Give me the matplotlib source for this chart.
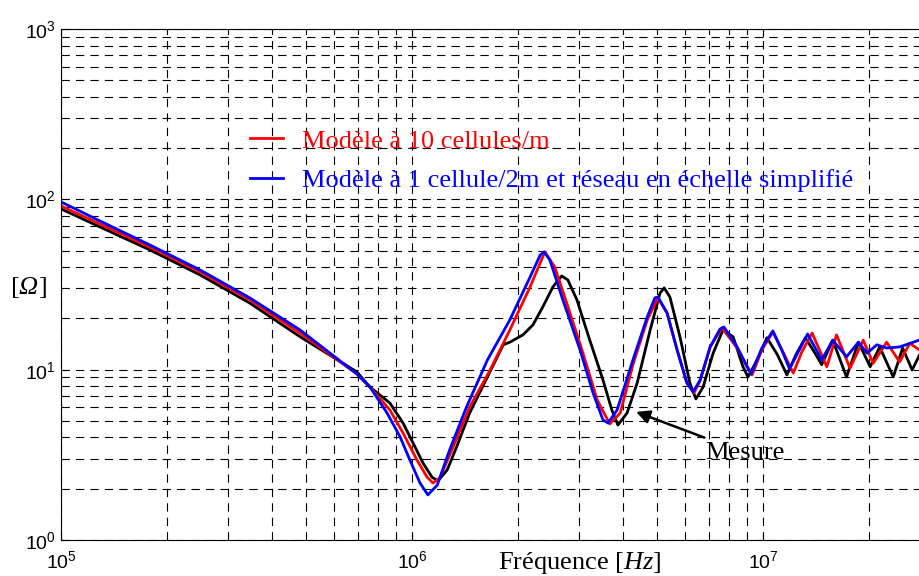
import matplotlib
matplotlib.use("Agg")
import matplotlib.pyplot as plt
from matplotlib.ticker import FixedLocator

plt.rcParams['font.family'] = ['Liberation Sans', 'DejaVu Sans']
plt.rcParams['mathtext.fontset'] = 'custom'
plt.rcParams['mathtext.rm'] = 'Liberation Serif'
plt.rcParams['mathtext.it'] = 'Liberation Serif:italic'

# Mesure (courbe noire)
f_mesure = [1.0e5, 1.29e5, 1.79e5, 2.49e5, 3.45e5, 4.80e5, 6.97e5, 7.59e5, 8.65e5,
            9.43e5, 1.007e6, 1.075e6, 1.14e6, 1.185e6, 1.26e6, 1.34e6, 1.46e6, 1.64e6,
            1.82e6, 1.90e6, 2.07e6, 2.21e6, 2.36e6, 2.52e6, 2.67e6, 2.78e6, 2.95e6,
            3.21e6, 3.50e6, 3.71e6, 3.86e6, 4.10e6, 4.38e6, 4.77e6, 5.09e6, 5.23e6,
            5.43e6, 5.80e6, 6.19e6, 6.44e6, 6.75e6, 7.21e6, 7.69e6, 8.22e6, 8.77e6,
            9.06e6, 9.62e6, 1.026e7, 1.10e7, 1.17e7, 1.24e7, 1.32e7, 1.40e7, 1.47e7,
            1.58e7, 1.73e7, 1.87e7, 2.02e7, 2.15e7, 2.35e7, 2.50e7, 2.66e7, 2.84e7]
z_mesure = [87.9, 68.9, 50.5, 36.0, 24.6, 15.6, 9.69, 7.91, 6.37,
            4.86, 3.71, 2.83, 2.34, 2.22, 2.58, 3.52, 5.57, 9.06,
            14.0, 14.5, 16.0, 18.3, 23.4, 30.6, 35.5, 33.6, 25.7,
            14.9, 8.70, 5.80, 4.73, 5.57, 8.35, 17.1, 28.2, 30.2,
            26.7, 15.6, 8.35, 6.73, 7.91, 12.5, 17.1, 15.6, 10.4,
            9.06, 11.4, 15.4, 12.2, 9.31, 12.2, 15.4, 12.7, 10.7,
            14.9, 9.06, 14.5, 10.4, 13.6, 9.06, 13.4, 9.96, 13.1]

# Modele a 10 cellules/m (rouge)
f_10c = [1.0e5, 1.29e5, 1.79e5, 2.49e5, 3.45e5, 4.80e5, 6.97e5, 7.59e5, 8.65e5,
         9.43e5, 1.033e6, 1.104e6, 1.148e6, 1.20e6, 1.31e6, 1.46e6, 1.67e6, 1.90e6,
         2.17e6, 2.39e6, 2.55e6, 2.76e6, 3.07e6, 3.37e6, 3.66e6, 3.92e6, 4.26e6,
         4.68e6, 5.02e6, 5.33e6, 5.69e6, 6.07e6, 6.36e6, 6.62e6, 7.07e6, 7.64e6,
         8.44e6, 9.31e6, 9.93e6, 1.067e7, 1.14e7, 1.22e7, 1.29e7, 1.38e7, 1.52e7,
         1.62e7, 1.77e7, 1.93e7, 2.06e7, 2.25e7, 2.45e7, 2.62e7, 2.84e7]
z_10c = [91.5, 71.7, 52.5, 37.5, 25.7, 16.4, 9.43, 7.91, 5.80,
         4.25, 2.95, 2.34, 2.16, 2.31, 3.52, 6.04, 9.96, 17.1,
         30.6, 49.1, 40.1, 24.6, 12.5, 6.64, 4.80, 5.57, 10.7,
         19.6, 26.4, 21.5, 13.1, 8.35, 7.30, 8.59, 13.6, 17.6,
         13.4, 9.31, 13.1, 16.6, 12.7, 9.56, 12.7, 16.4, 10.4,
         16.0, 10.2, 14.9, 10.9, 14.5, 11.1, 14.3, 12.7]

# Modele a 1 cellule/2m + reseau en echelle simplifie (bleu)
f_1c = [1.0e5, 1.29e5, 1.79e5, 2.49e5, 3.45e5, 4.80e5, 6.97e5, 7.59e5, 8.49e5,
        9.25e5, 9.86e5, 1.054e6, 1.11e6, 1.18e6, 1.28e6, 1.43e6, 1.64e6, 1.90e6,
        2.17e6, 2.32e6, 2.38e6, 2.47e6, 2.69e6, 3.01e6, 3.28e6, 3.50e6, 3.62e6,
        3.84e6, 4.26e6, 4.68e6, 4.92e6, 5.02e6, 5.33e6, 5.69e6, 6.07e6, 6.32e6,
        6.62e6, 7.07e6, 7.54e6, 7.74e6, 8.44e6, 9.00e6, 9.25e6, 9.93e6, 1.067e7,
        1.13e7, 1.19e7, 1.27e7, 1.34e7, 1.47e7, 1.58e7, 1.73e7, 1.87e7, 1.98e7,
        2.11e7, 2.25e7, 2.45e7, 2.84e7]
z_1c = [96.6, 74.7, 54.0, 38.5, 26.4, 17.1, 9.43, 7.91, 5.57,
        4.03, 2.95, 2.16, 1.84, 2.10, 3.38, 6.04, 11.4, 19.6,
        35.0, 47.2, 49.1, 44.1, 25.7, 13.1, 7.30, 5.07, 4.86,
        5.80, 11.4, 20.4, 26.4, 26.7, 21.5, 13.1, 8.35, 7.40,
        8.70, 13.6, 17.3, 17.8, 13.6, 10.4, 9.43, 13.4, 16.9,
        13.1, 10.1, 13.1, 16.2, 11.4, 14.9, 11.9, 14.5, 12.5,
        14.0, 13.4, 13.6, 15.1]

fig = plt.figure(figsize=(9.2, 5.76), dpi=100)
# l'axe va jusqu'a 1e8, la figure est coupee a droite comme l'original
ax = fig.add_axes([61 / 920, 36 / 576, 1053 / 920, 511 / 576])

ax.loglog(f_mesure, z_mesure, color='k', lw=2.0)
ax.loglog(f_10c, z_10c, color='#ff0000', lw=2.0, label=u'Modèle à 10 cellules/m')
ax.loglog(f_1c, z_1c, color='#0000ff', lw=2.0,
          label=u'Modèle à 1 cellule/2m et réseau en échelle simplifié')

ax.set_xlim(1e5, 1e8)
ax.set_ylim(1, 1000)
ax.xaxis.set_major_locator(FixedLocator([1e5, 1e6, 1e7]))

ax.grid(True, which='both', color='k', linestyle=(0, (7.5, 5.5)), lw=0.8)
ax.tick_params(which='both', direction='in', top=True, right=False, labelsize=14)
ax.tick_params(axis='x', which='both', pad=7)
ax.tick_params(which='major', length=6)
ax.tick_params(which='minor', length=3)
ax.spines['right'].set_visible(False)

ax.set_xlabel(u'Fréquence [$\\mathit{Hz}$]', fontsize=19, family='Liberation Serif',
              va='center')
ax.xaxis.set_label_coords(0.493, -0.045)

# [Omega] avec Omega en italique
fig.text(11 / 920, 1 - 288 / 576, '[', fontsize=19, family='Liberation Serif', va='center')
fig.text(18 / 920, 1 - 288 / 576, u'\u03a9', fontsize=19, family='Liberation Serif',
         style='italic', va='center')
fig.text(38 / 920, 1 - 288 / 576, ']', fontsize=19, family='Liberation Serif', va='center')

ax.legend(loc='upper left', bbox_to_anchor=(0.1795, 0.804), frameon=False,
          borderpad=0, borderaxespad=0, handlelength=1.25, handletextpad=0.72,
          labelspacing=0.62, labelcolor='linecolor',
          prop={'family': 'Liberation Serif', 'size': 19})

ax.annotate('Mesure', xy=(4.35e6, 5.65), xytext=(6.84e6, 3.25),
            fontsize=19, family='Liberation Serif', ha='left', va='center',
            arrowprops=dict(arrowstyle='-|>', color='k', lw=1.8, mutation_scale=20,
                            shrinkA=3, shrinkB=0))

fig.savefig('out.png', dpi=100)
